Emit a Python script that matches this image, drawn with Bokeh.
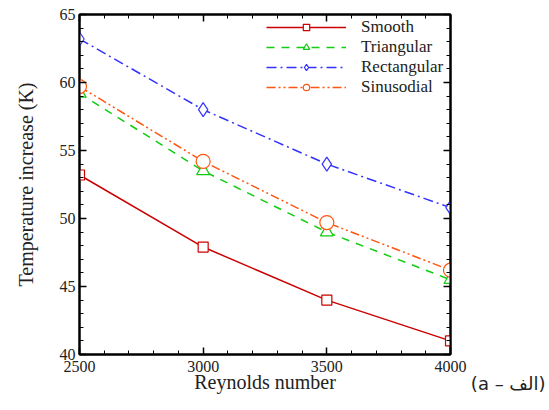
from bokeh.plotting import figure
from bokeh.models import (LinearAxis, Range1d, SingleIntervalTicker, Legend, LegendItem, Title)
from bokeh.embed import file_html
from bokeh.resources import INLINE

reynolds = [2500, 3000, 3500, 4000]
smooth = [53.2, 47.9, 44.0, 41.0]
triangular = [59.2, 53.5, 49.0, 45.5]
rectangular = [63.2, 58.0, 54.0, 50.8]
sinusoidal = [59.7, 54.2, 49.7, 46.2]
series_names = ["Smooth", "Triangular", "Rectangular", "Sinusodial"]
panel_tag = "(a – الف)"

FONT = "Liberation Serif"

p = figure(width=549, height=410, output_backend="svg", toolbar_location=None,
           x_range=Range1d(2500, 4000), y_range=Range1d(40, 65),
           min_border_left=79, min_border_right=99, min_border_top=14, min_border_bottom=56,
           x_axis_location=None, y_axis_location=None)
p.grid.visible = False
p.outline_line_color = "black"
p.outline_line_width = 2
p.background_fill_color = "white"
p.border_fill_color = "white"

xt = SingleIntervalTicker(interval=500, num_minor_ticks=5)
yt = SingleIntervalTicker(interval=5, num_minor_ticks=5)

def style(ax, show):
    ax.major_tick_in = 7
    ax.major_tick_out = 0
    ax.minor_tick_in = 4
    ax.minor_tick_out = 0
    ax.axis_line_width = 2
    ax.major_tick_line_width = 1.5
    ax.minor_tick_line_width = 1
    ax.major_label_text_font = FONT
    ax.major_label_text_font_size = "16px"
    ax.major_label_text_color = "#222222" if show else None
    ax.axis_label_text_font = FONT
    ax.axis_label_text_font_size = "20px"
    ax.axis_label_text_font_style = "normal"
    ax.axis_label_text_color = "#222222"

xb = LinearAxis(ticker=xt, axis_label="Reynolds number")
style(xb, True)
xb.major_label_standoff = 6
xb.axis_label_standoff = -4
p.add_layout(xb, "below")
yl = LinearAxis(ticker=yt, axis_label="Temperature increase (K)")
style(yl, True)
yl.major_label_standoff = 4
yl.axis_label_standoff = 20
p.add_layout(yl, "left")
xa = LinearAxis(ticker=SingleIntervalTicker(interval=500, num_minor_ticks=5))
style(xa, False)
xa.major_label_text_font_size = "0px"
p.add_layout(xa, "above")
yr = LinearAxis(ticker=SingleIntervalTicker(interval=5, num_minor_ticks=5))
style(yr, False)
yr.major_label_text_font_size = "0px"
p.add_layout(yr, "right")

specs = [
    (smooth, "#cc0000", "solid", "square", 10),
    (triangular, "#11cc11", "8 7", "triangle", 13),
    (rectangular, "#3333ff", "10 4 2 4", "diamond", 14),
    (sinusoidal, "#ff5511", "9 3 2 3 2 3", "circle", 14),
]
items = []
for (vals, col, dash, mk, sz), name in zip(specs, series_names):
    l = p.line(reynolds, vals, line_color=col, line_width=1.5, line_dash=dash)
    m = p.scatter(reynolds, vals, marker=mk, size=sz, line_color=col, fill_color="white", line_width=1.2)
    items.append(LegendItem(label=name, renderers=[l, m]))

leg = Legend(items=items, location=(187, 257), orientation="vertical",
             glyph_width=80, glyph_height=16, label_height=20, label_text_font=FONT,
             label_text_font_size="17px", label_text_color="#222222",
             spacing=0, padding=4, label_standoff=15,
             background_fill_alpha=0, border_line_color=None, margin=0)
p.add_layout(leg, "center")

tag = Title(text=panel_tag, align="right", vertical_align="top", offset=-95, standoff=-46,
            text_font="DejaVu Sans", text_font_size="18px", text_font_style="normal",
            text_color="#222222")
p.add_layout(tag, "below")

open("out.html", "w").write(file_html(p, INLINE))
